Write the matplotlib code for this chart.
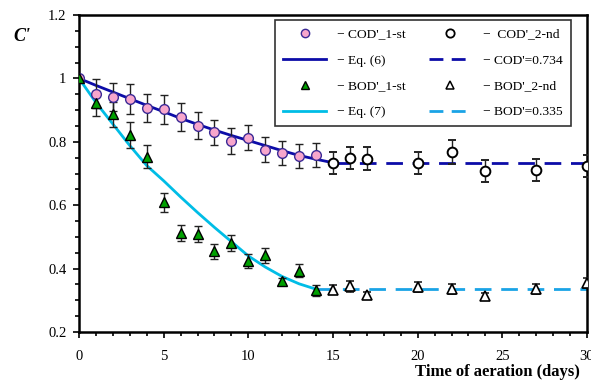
import numpy as np
import matplotlib
matplotlib.use('Agg')
import matplotlib.pyplot as plt
from matplotlib.lines import Line2D

plt.rcParams['font.family'] = ['Liberation Serif', 'DejaVu Serif']

# COD' 1-st stage (pink circles)
cod1_day = [0, 1, 2, 3, 4, 5, 6, 7, 8, 9, 10, 11, 12, 13, 14]
cod1_val = [1.0, 0.952, 0.942, 0.935, 0.907, 0.902, 0.878, 0.851, 0.830, 0.802, 0.813, 0.775, 0.764, 0.754, 0.758]
cod1_err = [0.0, 0.045, 0.045, 0.046, 0.045, 0.045, 0.044, 0.042, 0.04, 0.04, 0.04, 0.04, 0.038, 0.038, 0.038]

# COD' 2-nd stage (open circles)
cod2_day = [15, 16, 17, 20, 22, 24, 27, 30]
cod2_val = [0.733, 0.749, 0.747, 0.733, 0.767, 0.708, 0.710, 0.724]
cod2_err = [0.035, 0.036, 0.036, 0.035, 0.038, 0.034, 0.035, 0.035]

# BOD' 1-st stage (green triangles)
bod1_day = [0, 1, 2, 3, 4, 5, 6, 7, 8, 9, 10, 11, 12, 13, 14]
bod1_val = [1.0, 0.921, 0.887, 0.821, 0.753, 0.610, 0.513, 0.508, 0.455, 0.481, 0.424, 0.442, 0.361, 0.393, 0.332]
bod1_err = [0.0, 0.04, 0.04, 0.04, 0.037, 0.03, 0.026, 0.025, 0.024, 0.025, 0.021, 0.023, 0.01, 0.02, 0.017]

# BOD' 2-nd stage (open triangles)
bod2_day = [15, 16, 17, 20, 22, 24, 27, 30]
bod2_val = [0.334, 0.344, 0.316, 0.342, 0.335, 0.313, 0.335, 0.355]
bod2_err = [0.015, 0.017, 0.01, 0.016, 0.015, 0.01, 0.015, 0.015]

# Eq. (6) and Eq. (7) curves
eq6_day = [0, 1, 2, 3, 4, 5, 6, 7, 8, 9, 10, 11, 12, 13, 14, 15]
eq6_val = [1.0, 0.978, 0.957, 0.936, 0.915, 0.895, 0.874, 0.855, 0.837, 0.820, 0.804, 0.788, 0.772, 0.757, 0.745, 0.734]
eq7_day = [0, 1, 2, 3, 4, 5, 6, 7, 8, 9, 10, 11, 12, 13, 14]
eq7_val = [1.0, 0.924, 0.856, 0.788, 0.725, 0.677, 0.626, 0.577, 0.530, 0.485, 0.440, 0.405, 0.375, 0.352, 0.335]

cod_lim = 0.734
bod_lim = 0.335

dark_blue = '#0c0ca8'
cyan = '#00bde6'
light_blue = '#1aa3e6'

fig = plt.figure(figsize=(5.91, 3.87), dpi=100)
ax = fig.add_axes([0.1337, 0.1421, 0.8595, 0.8191])

# lines
ax.plot(eq6_day, eq6_val, color=dark_blue, lw=2, zorder=2)
ax.plot([15, 30], [cod_lim, cod_lim], color=dark_blue, lw=2, dashes=(6, 3.5), zorder=2)
ax.plot(eq7_day, eq7_val, color=cyan, lw=2, zorder=2)
ax.plot([14, 30], [bod_lim, bod_lim], color=light_blue, lw=2, dashes=(6, 3.5), zorder=2)

eb = dict(ecolor='#222222', elinewidth=1, capsize=2.6, capthick=1, ls='none', zorder=3)
ax.errorbar(cod1_day, cod1_val, yerr=cod1_err, marker='o', ms=7, mfc='#f7a6cc', mec='#3b2a96', mew=1, **eb)
ax.errorbar(cod2_day, cod2_val, yerr=cod2_err, marker='o', ms=7, mfc='white', mec='black', mew=1.4, **eb)
ax.errorbar(bod1_day, bod1_val, yerr=bod1_err, marker='^', ms=7.5, mfc='#00a000', mec='black', mew=1, **eb)
ax.errorbar(bod2_day, bod2_val, yerr=bod2_err, marker='^', ms=7.5, mfc='white', mec='black', mew=1.2, **eb)

ax.set_xlim(0, 30)
ax.set_ylim(0.2, 1.2)
ax.set_xticks([0, 5, 10, 15, 20, 25, 30])
ax.set_xticks(np.arange(0, 31, 1), minor=True)
ax.set_yticks([0.2, 0.4, 0.6, 0.8, 1.0, 1.2])
ax.set_yticklabels(['0.2', '0.4', '0.6', '0.8', '1', '1.2'])
ax.set_yticks(np.arange(0.2, 1.21, 0.05), minor=True)
ax.tick_params(which='both', direction='out', width=1.2, labelsize=10.5)
ax.tick_params(which='major', length=4)
ax.tick_params(which='minor', length=3)
ax.tick_params(axis='x', pad=9)
ax.tick_params(axis='y', pad=5)
for s in ax.spines.values():
    s.set_linewidth(1.8)

fig.text(0.022, 0.895, "C'", fontsize=13, fontweight='bold', style='italic')
fig.text(0.982, 0.028, 'Time of aeration (days)', fontsize=12, fontweight='bold', ha='right')

handles = [
    Line2D([], [], ls='none', marker='o', ms=6, mfc='#f7a6cc', mec='#3b2a96'),
    Line2D([], [], color=dark_blue, lw=2),
    Line2D([], [], ls='none', marker='^', ms=6, mfc='#00a000', mec='black'),
    Line2D([], [], color=cyan, lw=2),
    Line2D([], [], ls='none', marker='o', ms=6, mfc='white', mec='black', mew=1.3),
    Line2D([], [], color=dark_blue, lw=2, dashes=(5, 3)),
    Line2D([], [], ls='none', marker='^', ms=6, mfc='white', mec='black', mew=1.1),
    Line2D([], [], color=light_blue, lw=2, dashes=(5, 3)),
]
labels = ["\u2212 COD'_1-st", "\u2212 Eq. (6)", "\u2212 BOD'_1-st", "\u2212 Eq. (7)",
          "\u2212  COD'_2-nd", "\u2212 COD'=0.734", "\u2212 BOD'_2-nd", "\u2212 BOD'=0.335"]
leg = ax.legend(handles, labels, ncol=2, loc='upper right', bbox_to_anchor=(0.968, 0.984),
                fontsize=9.7, frameon=True, fancybox=False, edgecolor='black',
                handlelength=3.15, handletextpad=0.85, columnspacing=1.7,
                labelspacing=1.0, borderpad=0.6, borderaxespad=0)
leg.get_frame().set_linewidth(1.2)

fig.savefig('out.png', dpi=100)
